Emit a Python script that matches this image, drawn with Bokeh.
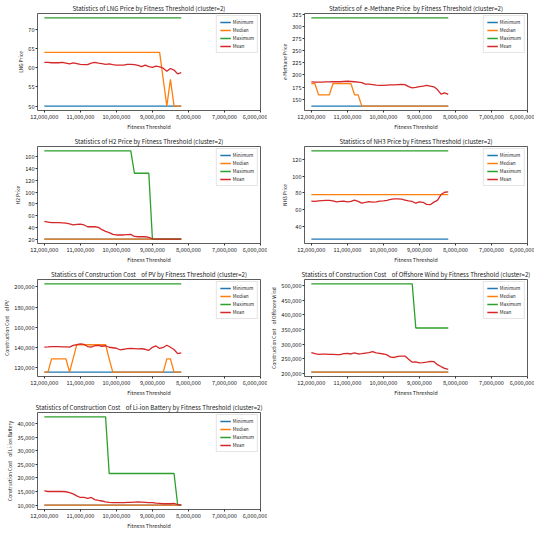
from bokeh.plotting import figure
from bokeh.layouts import gridplot
from bokeh.models import Range1d, FixedTicker, NumeralTickFormatter, Legend, LegendItem
from bokeh.embed import file_html
from bokeh.resources import INLINE

# ---------------- data ----------------
thresholds = [12000000, 11900000, 11800000, 11700000, 11600000, 11500000, 11400000, 11300000,
              11200000, 11100000, 11000000, 10900000, 10800000, 10700000, 10600000, 10500000,
              10400000, 10300000, 10200000, 10100000, 10000000, 9900000, 9800000, 9700000,
              9600000, 9500000, 9400000, 9300000, 9200000, 9100000, 9000000, 8900000,
              8800000, 8700000, 8600000, 8500000, 8400000, 8300000, 8200000]
x_ticks = [12000000, 11000000, 10000000, 9000000, 8000000, 7000000, 6000000]
x_right_limit = 6000000
series_names = ["Minimum", "Median", "Maximum", "Mean"]

lng_min = [50, 50, 50, 50, 50, 50, 50, 50, 50, 50, 50, 50, 50,
           50, 50, 50, 50, 50, 50, 50, 50, 50, 50, 50, 50, 50,
           50, 50, 50, 50, 50, 50, 50, 50, 50, 50, 50, 50, 50]
lng_median = [64, 64, 64, 64, 64, 64, 64, 64, 64, 64, 64, 64, 64,
              64, 64, 64, 64, 64, 64, 64, 64, 64, 64, 64, 64, 64,
              64, 64, 64, 64, 64, 64, 64, 57, 50, 57, 50, 50, 50]
lng_max = [73, 73, 73, 73, 73, 73, 73, 73, 73, 73, 73, 73, 73,
           73, 73, 73, 73, 73, 73, 73, 73, 73, 73, 73, 73, 73,
           73, 73, 73, 73, 73, 73, 73, 73, 73, 73, 73, 73, 73]
lng_mean = [61.4, 61.4, 61.3, 61.3, 61.3, 61.4, 61.2, 61.0, 61.3, 61.1,
            60.9, 60.8, 60.8, 61.2, 61.4, 61.2, 61.1, 60.9, 61.0, 60.8,
            60.7, 60.7, 60.7, 60.9, 60.9, 60.8, 60.6, 60.3, 60.7, 60.3,
            60.1, 60.4, 60.2, 59.9, 59.1, 59.8, 59.4, 58.4, 58.7]
lng_ticks = [50, 55, 60, 65, 70]

meth_min = [136, 136, 136, 136, 136, 136, 136, 136, 136, 136, 136, 136, 136,
            136, 136, 136, 136, 136, 136, 136, 136, 136, 136, 136, 136, 136,
            136, 136, 136, 136, 136, 136, 136, 136, 136, 136, 136, 136, 136]
meth_median = [182, 182, 159, 159, 159, 159, 182, 182, 182, 182, 182, 182, 159,
               159, 136, 136, 136, 136, 136, 136, 136, 136, 136, 136, 136, 136,
               136, 136, 136, 136, 136, 136, 136, 136, 136, 136, 136, 136, 136]
meth_max = [317, 317, 317, 317, 317, 317, 317, 317, 317, 317, 317, 317, 317,
            317, 317, 317, 317, 317, 317, 317, 317, 317, 317, 317, 317, 317,
            317, 317, 317, 317, 317, 317, 317, 317, 317, 317, 317, 317, 317]
meth_mean = [185.5, 185.0, 185.0, 185.0, 185.5, 185.5, 186.0, 186.0, 186.0, 186.5,
             187.0, 186.5, 186.0, 185.0, 184.0, 181.0, 181.0, 180.0, 179.0, 178.5,
             178.5, 179.0, 179.5, 179.5, 180.0, 180.5, 180.0, 176.0, 173.5, 174.5,
             176.0, 177.0, 178.5, 177.0, 175.5, 170.0, 160.5, 163.0, 160.0]
meth_ticks = [150, 175, 200, 225, 250, 275, 300, 325]

h2_min = [20, 20, 20, 20, 20, 20, 20, 20, 20, 20, 20, 20, 20,
          20, 20, 20, 20, 20, 20, 20, 20, 20, 20, 20, 20, 20,
          20, 20, 20, 20, 20, 20, 20, 20, 20, 20, 20, 20, 20]
h2_median = [20, 20, 20, 20, 20, 20, 20, 20, 20, 20, 20, 20, 20,
             20, 20, 20, 20, 20, 20, 20, 20, 20, 20, 20, 20, 20,
             20, 20, 20, 20, 20, 20, 20, 20, 20, 20, 20, 20, 20]
h2_max = [170, 170, 170, 170, 170, 170, 170, 170, 170, 170, 170, 170, 170,
          170, 170, 170, 170, 170, 170, 170, 170, 170, 170, 170, 170, 132,
          132, 132, 132, 132, 20, 20, 20, 20, 20, 20, 20, 20, 20]
h2_mean = [50, 49, 48, 48, 48, 47.5, 47, 46, 44, 45,
           45.5, 44, 41, 41, 41, 40, 36, 33, 31, 28,
           27, 27, 27, 27.5, 28, 24.5, 24, 24, 24, 23,
           20.5, 20, 20, 20, 20, 20, 20, 20, 20]
h2_ticks = [20, 40, 60, 80, 100, 120, 140, 160]

nh3_min = [25, 25, 25, 25, 25, 25, 25, 25, 25, 25, 25, 25, 25,
           25, 25, 25, 25, 25, 25, 25, 25, 25, 25, 25, 25, 25,
           25, 25, 25, 25, 25, 25, 25, 25, 25, 25, 25, 25, 25]
nh3_median = [78, 78, 78, 78, 78, 78, 78, 78, 78, 78, 78, 78, 78,
              78, 78, 78, 78, 78, 78, 78, 78, 78, 78, 78, 78, 78,
              78, 78, 78, 78, 78, 78, 78, 78, 78, 78, 78, 78, 78]
nh3_max = [130, 130, 130, 130, 130, 130, 130, 130, 130, 130, 130, 130, 130,
           130, 130, 130, 130, 130, 130, 130, 130, 130, 130, 130, 130, 130,
           130, 130, 130, 130, 130, 130, 130, 130, 130, 130, 130, 130, 130]
nh3_mean = [70.2, 70.0, 70.6, 70.9, 71.0, 71.0, 70.6, 69.3, 69.8, 70.2,
            69.3, 69.9, 71.5, 69.9, 67.8, 68.6, 69.6, 69.0, 69.3, 70.2,
            70.6, 71.2, 72.2, 72.8, 72.8, 72.6, 71.5, 70.4, 69.8, 67.8,
            69.2, 68.8, 66.4, 66.0, 69.0, 71.0, 78.0, 80.8, 81.2]
nh3_ticks = [40, 60, 80, 100, 120]

pv_min = [115300, 115300, 115300, 115300, 115300, 115300, 115300, 115300, 115300, 115300,
          115300, 115300, 115300, 115300, 115300, 115300, 115300, 115300, 115300, 115300,
          115300, 115300, 115300, 115300, 115300, 115300, 115300, 115300, 115300, 115300,
          115300, 115300, 115300, 115300, 115300, 115300, 115300, 115300, 115300]
pv_median = [115300, 115300, 128500, 128500, 128500, 128500, 128500, 115300, 129000, 142500,
             142500, 142500, 142500, 142500, 142500, 142500, 142500, 142500, 128500, 115300,
             115300, 115300, 115300, 115300, 115300, 115300, 115300, 115300, 115300, 115300,
             115300, 115300, 115300, 115300, 128500, 128500, 115300, 115300, 115300]
pv_max = [203000, 203000, 203000, 203000, 203000, 203000, 203000, 203000, 203000, 203000,
          203000, 203000, 203000, 203000, 203000, 203000, 203000, 203000, 203000, 203000,
          203000, 203000, 203000, 203000, 203000, 203000, 203000, 203000, 203000, 203000,
          203000, 203000, 203000, 203000, 203000, 203000, 203000, 203000, 203000]
pv_mean = [140100, 140300, 140600, 140700, 140600, 140400, 140300, 140200, 141800, 142500,
           143400, 142800, 140700, 140200, 141500, 141800, 141000, 141500, 140000, 139500,
           139000, 137500, 138000, 138700, 138800, 138600, 138400, 138500, 138000, 137000,
           139900, 141300, 138800, 139800, 142000, 140000, 137800, 133600, 134500]
pv_ticks = [120000, 140000, 160000, 180000, 200000]

wind_min = [204000, 204000, 204000, 204000, 204000, 204000, 204000, 204000, 204000, 204000,
            204000, 204000, 204000, 204000, 204000, 204000, 204000, 204000, 204000, 204000,
            204000, 204000, 204000, 204000, 204000, 204000, 204000, 204000, 204000, 204000,
            204000, 204000, 204000, 204000, 204000, 204000, 204000, 204000, 204000]
wind_median = [204000, 204000, 204000, 204000, 204000, 204000, 204000, 204000, 204000, 204000,
               204000, 204000, 204000, 204000, 204000, 204000, 204000, 204000, 204000, 204000,
               204000, 204000, 204000, 204000, 204000, 204000, 204000, 204000, 204000, 204000,
               204000, 204000, 204000, 204000, 204000, 204000, 204000, 204000, 204000]
wind_max = [506000, 506000, 506000, 506000, 506000, 506000, 506000, 506000, 506000, 506000,
            506000, 506000, 506000, 506000, 506000, 506000, 506000, 506000, 506000, 506000,
            506000, 506000, 506000, 506000, 506000, 506000, 506000, 506000, 506000, 355000,
            355000, 355000, 355000, 355000, 355000, 355000, 355000, 355000, 355000]
wind_mean = [271000, 267000, 265000, 265500, 265500, 265000, 264500, 264000, 264000, 267000,
             268000, 266000, 270000, 266000, 267000, 269000, 271000, 274000, 270000, 268000,
             266000, 263000, 255000, 254000, 258000, 258500, 259000, 248000, 238000, 239000,
             235500, 236500, 238500, 240700, 240000, 229500, 223000, 217000, 213000]
wind_ticks = [200000, 250000, 300000, 350000, 400000, 450000, 500000]

li_min = [10000, 10000, 10000, 10000, 10000, 10000, 10000, 10000, 10000, 10000,
          10000, 10000, 10000, 10000, 10000, 10000, 10000, 10000, 10000, 10000,
          10000, 10000, 10000, 10000, 10000, 10000, 10000, 10000, 10000, 10000,
          10000, 10000, 10000, 10000, 10000, 10000, 10000, 10000, 10000]
li_median = [10000, 10000, 10000, 10000, 10000, 10000, 10000, 10000, 10000, 10000,
             10000, 10000, 10000, 10000, 10000, 10000, 10000, 10000, 10000, 10000,
             10000, 10000, 10000, 10000, 10000, 10000, 10000, 10000, 10000, 10000,
             10000, 10000, 10000, 10000, 10000, 10000, 10000, 10000, 10000]
li_max = [42400, 42400, 42400, 42400, 42400, 42400, 42400, 42400, 42400, 42400,
          42400, 42400, 42400, 42400, 42400, 42400, 42400, 42400, 21600, 21600,
          21600, 21600, 21600, 21600, 21600, 21600, 21600, 21600, 21600, 21600,
          21600, 21600, 21600, 21600, 21600, 21600, 21600, 10200, 10000]
li_mean = [15200, 15000, 15000, 15000, 15000, 15000, 14900, 14600, 14100, 13400,
           12800, 12800, 12500, 12800, 12000, 11700, 11500, 11200, 11000, 10900,
           10900, 10900, 10900, 11000, 11000, 11100, 11200, 11100, 11000, 10900,
           10900, 10700, 10600, 10500, 10500, 10500, 10600, 10200, 10000]
li_ticks = [10000, 15000, 20000, 25000, 30000, 35000, 40000]

GAP = "\u00a0\u00a0\u00a0\u00a0"
panels = [
    ("Statistics of LNG Price by Fitness Threshold (cluster=2)", "LNG Price",
     [lng_min, lng_median, lng_max, lng_mean], lng_ticks),
    ("Statistics of \u00a0e-Methane Price \u00a0by Fitness Threshold (cluster=2)", "e-Methane Price",
     [meth_min, meth_median, meth_max, meth_mean], meth_ticks),
    ("Statistics of H2 Price by Fitness Threshold (cluster=2)", "H2 Price",
     [h2_min, h2_median, h2_max, h2_mean], h2_ticks),
    ("Statistics of NH3 Price by Fitness Threshold (cluster=2)", "NH3 Price",
     [nh3_min, nh3_median, nh3_max, nh3_mean], nh3_ticks),
    ("Statistics of Construction Cost" + GAP + "of PV by Fitness Threshold (cluster=2)",
     "Construction Cost" + GAP + "of PV",
     [pv_min, pv_median, pv_max, pv_mean], pv_ticks),
    ("Statistics of Construction Cost" + GAP + "of Offshore Wind by Fitness Threshold (cluster=2)",
     "Construction Cost" + GAP + "of Offshore Wind",
     [wind_min, wind_median, wind_max, wind_mean], wind_ticks),
    ("Statistics of Construction Cost" + GAP + "of Li-ion Battery by Fitness Threshold (cluster=2)",
     "Construction Cost" + GAP + "of Li-ion Battery",
     [li_min, li_median, li_max, li_mean], li_ticks),
]

# ---------------- style ----------------
FONT = "Noto Sans CJK JP"
COLORS = ["#1f77b4", "#ff7f0e", "#2ca02c", "#d62728"]
TEXT = "#222222"


def make_panel(title, ylabel, series, yticks):
    lo = min(min(s) for s in series)
    hi = max(max(s) for s in series)
    pad = (hi - lo) * 0.05
    xmin, xmax = min(thresholds), max(thresholds)
    x_start = xmax + (xmax - xmin) * 0.05
    p = figure(width=267, height=133, output_backend="svg", toolbar_location=None,
               x_range=Range1d(x_start, x_right_limit),
               y_range=Range1d(lo - pad, hi + pad),
               min_border_left=32, min_border_right=7,
               min_border_top=10, min_border_bottom=19)
    p.title.text = title
    p.title.align = "center"
    p.title.text_font = FONT
    p.title.text_font_size = "6.1px"
    p.title.text_font_style = "normal"
    p.title.text_color = TEXT
    p.title.standoff = 2

    items = []
    for name, vals, col in zip(series_names, series, COLORS):
        r = p.line(thresholds, vals, line_color=col, line_width=1.3)
        items.append(LegendItem(label=name, renderers=[r]))
    leg = Legend(items=items, location="top_right")
    leg.label_text_font = FONT
    leg.label_text_font_size = "4.6px"
    leg.label_text_color = TEXT
    leg.glyph_width = 11
    leg.glyph_height = 6
    leg.label_height = 6
    leg.label_standoff = 2
    leg.spacing = 2
    leg.padding = 3
    leg.margin = 2
    leg.border_line_color = "#cccccc"
    leg.border_line_width = 0.8
    leg.background_fill_alpha = 0.8
    p.add_layout(leg)

    p.xaxis.ticker = FixedTicker(ticks=x_ticks)
    p.yaxis.ticker = FixedTicker(ticks=yticks)
    p.xaxis.formatter = NumeralTickFormatter(format="0,0")
    p.yaxis.formatter = NumeralTickFormatter(format="0,0")
    p.xaxis.axis_label = "Fitness Threshold"
    p.yaxis.axis_label = ylabel
    for ax in (p.xaxis, p.yaxis):
        ax.axis_label_text_font = FONT
        ax.axis_label_text_font_style = "normal"
        ax.axis_label_text_color = TEXT
        ax.axis_label_standoff = 1
        ax.major_label_text_font = FONT
        ax.major_label_text_font_size = "5.6px"
        ax.major_label_text_color = TEXT
        ax.major_label_standoff = 1
        ax.major_tick_out = 2
        ax.major_tick_in = 0
        ax.major_tick_line_color = "#333333"
        ax.minor_tick_line_color = None
        ax.axis_line_color = None
    p.xaxis.axis_label_text_font_size = "5.3px"
    p.yaxis.axis_label_text_font_size = "4.8px"
    p.xgrid.visible = False
    p.ygrid.visible = False
    p.outline_line_color = "#333333"
    p.outline_line_width = 0.8
    p.outline_line_alpha = 1.0
    return p


figs = [make_panel(*pn) for pn in panels]
grid = gridplot([[figs[0], figs[1]], [figs[2], figs[3]], [figs[4], figs[5]], [figs[6], None]],
                toolbar_location=None)

open("out.html", "w").write(file_html(grid, INLINE))
